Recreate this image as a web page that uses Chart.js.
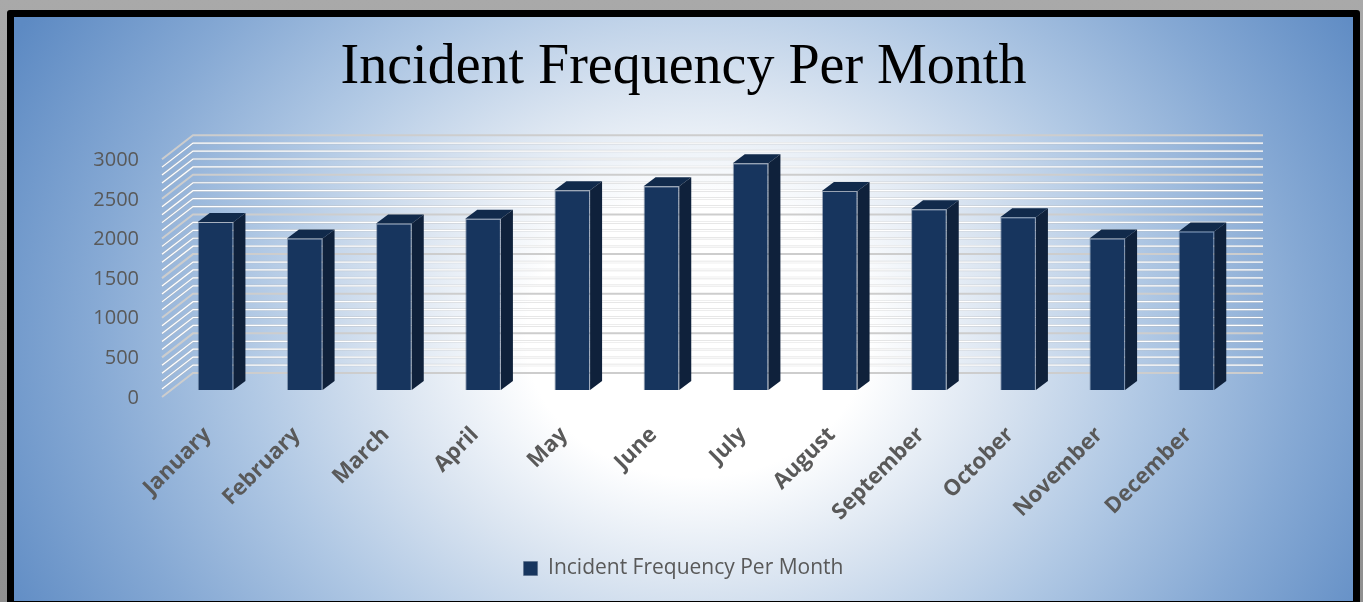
<!DOCTYPE html>
<html>
<head>
<meta charset="utf-8">
<script src="https://cdn.jsdelivr.net/npm/chart.js@4.4.0/dist/chart.umd.min.js"></script>
<style>
  body { margin: 0; width: 1363px; height: 602px; overflow: hidden; position: relative;
         background: linear-gradient(#a9a9a9, #8f8f8f); }
  #panel { position: absolute; left: 7px; top: 10px; width: 1339px; height: 584px;
           border: 7px solid #000; border-radius: 3px;
           background: radial-gradient(ellipse 58% 108% at 51% 55%, #ffffff 0%, #ffffff 22%, #dbe5f1 39%, #b0c8e4 58%, #86a9d4 78%, #5d8ac3 100%); }
  canvas { display: block; }
</style>
</head>
<body>
<div id="panel"><canvas id="incidentChart" width="1339" height="584"></canvas></div>
<script>
const months = ["January", "February", "March", "April", "May", "June",
                "July", "August", "September", "October", "November", "December"];
const incidents = [2120, 1910, 2100, 2160, 2520, 2570, 2860, 2510, 2280, 2180, 1910, 2000];
const yTickValues = [0, 500, 1000, 1500, 2000, 2500, 3000];
const seriesName = "Incident Frequency Per Month";

const yMax = 3000;
const gridStep = 100;
// depth offsets of the fake 3D walls relative to the bar plane
const frontWall = { dx: -9, dy: 7 };
const backWall = { dx: 22, dy: -17 };
const barDepth = { dx: 12, dy: -9 };

const wallGrid = {
    id: "wallGrid",
    beforeDatasetsDraw(chart) {
        const ctx = chart.ctx;
        const a = chart.chartArea;
        const y = chart.scales.y;
        ctx.save();
        for (let v = 0; v <= yMax; v += gridStep) {
            const py = y.getPixelForValue(v);
            const major = v % 500 === 0;
            const pts = [
                [a.left + frontWall.dx, py + frontWall.dy],
                [a.left + backWall.dx, py + backWall.dy],
                [a.right + backWall.dx, py + backWall.dy]
            ];
            const strokes = major ? [[2, "#cdcdcd"]] : [[2.5, "rgba(185,185,185,0.45)"], [1.2, "#ffffff"]];
            strokes.forEach(function(s) {
                ctx.lineWidth = s[0];
                ctx.strokeStyle = s[1];
                ctx.beginPath();
                ctx.moveTo(pts[0][0], pts[0][1]);
                ctx.lineTo(pts[1][0], pts[1][1]);
                ctx.lineTo(pts[2][0], pts[2][1]);
                ctx.stroke();
            });
        }
        ctx.restore();
    }
};

const columnDepth = {
    id: "columnDepth",
    afterDatasetsDraw(chart) {
        const ctx = chart.ctx;
        ctx.save();
        chart.getDatasetMeta(0).data.forEach(function(bar) {
            const p = bar.getProps(["x", "y", "base", "width"], true);
            const l = p.x - p.width / 2, r = p.x + p.width / 2;
            // top face
            ctx.fillStyle = "#112a4b";
            ctx.beginPath();
            ctx.moveTo(l, p.y);
            ctx.lineTo(l + barDepth.dx, p.y + barDepth.dy);
            ctx.lineTo(r + barDepth.dx, p.y + barDepth.dy);
            ctx.lineTo(r, p.y);
            ctx.closePath();
            ctx.fill();
            // side face
            ctx.fillStyle = "#0f213b";
            ctx.beginPath();
            ctx.moveTo(r, p.y);
            ctx.lineTo(r + barDepth.dx, p.y + barDepth.dy);
            ctx.lineTo(r + barDepth.dx, p.base + barDepth.dy);
            ctx.lineTo(r, p.base);
            ctx.closePath();
            ctx.fill();
        });
        ctx.restore();
    }
};

const ctx = document.getElementById("incidentChart").getContext("2d");
new Chart(ctx, {
    type: "bar",
    data: {
        labels: months,
        datasets: [{
            label: seriesName,
            data: incidents,
            backgroundColor: "#17355e",
            borderColor: "rgba(80,100,130,0.5)",
            borderWidth: 1,
            barPercentage: 0.4,
            categoryPercentage: 1
        }]
    },
    options: {
        responsive: false,
        animation: false,
        layout: { padding: { left: 0, right: 0, top: 0, bottom: 12 } },
        plugins: {
            title: {
                display: true,
                text: "Incident Frequency Per Month",
                color: "#000000",
                font: { family: "'Liberation Serif', serif", size: 56, weight: "normal" },
                padding: { top: 18, bottom: 50 }
            },
            legend: {
                position: "bottom",
                labels: {
                    color: "#595959",
                    font: { family: "'Open Sans', sans-serif", size: 21 },
                    boxWidth: 14,
                    boxHeight: 14,
                    padding: 10
                }
            },
            tooltip: { enabled: false }
        },
        scales: {
            x: {
                grid: { display: false, drawTicks: false },
                border: { display: false },
                afterFit(scale) { scale.height = 158; },
                ticks: {
                    color: "#595959",
                    font: { family: "'Open Sans', sans-serif", size: 22, weight: "bold" },
                    minRotation: 45,
                    maxRotation: 45,
                    padding: 32,
                    labelOffset: -8
                }
            },
            y: {
                min: 0,
                max: yMax,
                grid: { display: false, drawTicks: false },
                border: { display: false },
                afterBuildTicks(scale) {
                    scale.ticks = yTickValues.map(function(v) { return { value: v }; });
                },
                afterFit(scale) { scale.width = 157; },
                ticks: {
                    color: "#595959",
                    font: { family: "'Open Sans', sans-serif", size: 20 },
                    padding: 32,
                    labelOffset: 8,
                    callback: function(v) { return String(v); }
                }
            },
            rightGap: {
                type: "linear",
                position: "right",
                display: true,
                grid: { display: false, drawTicks: false },
                border: { display: false },
                ticks: { display: false },
                afterFit(scale) { scale.width = 112; }
            }
        }
    },
    plugins: [wallGrid, columnDepth]
});
</script>
</body>
</html>
